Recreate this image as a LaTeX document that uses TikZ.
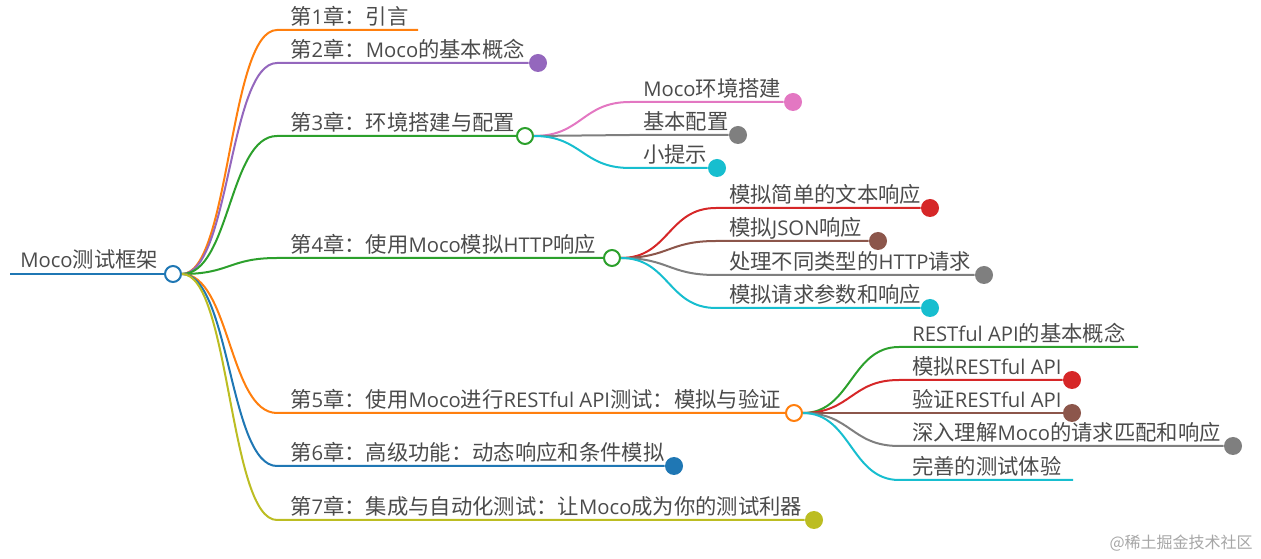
\documentclass[tikz,border=0pt]{standalone}
\usepackage{fontspec}
\setmainfont{Noto Sans CJK SC}
\newfontfamily\latfont[Scale=0.95]{Open Sans}
\newcommand\lat[1]{{\latfont #1}}
\usetikzlibrary{positioning}
\definecolor{MapBlue}{RGB}{31,119,180}
\definecolor{MapOrange}{RGB}{255,127,14}
\definecolor{MapGreen}{RGB}{44,160,44}
\definecolor{MapRed}{RGB}{214,39,40}
\definecolor{MapPurple}{RGB}{148,103,189}
\definecolor{MapBrown}{RGB}{140,86,75}
\definecolor{MapPink}{RGB}{227,119,194}
\definecolor{MapGray}{RGB}{127,127,127}
\definecolor{MapOlive}{RGB}{188,189,34}
\definecolor{MapCyan}{RGB}{23,190,207}
\definecolor{TextGray}{RGB}{75,75,75}
\tikzset{
  maptext/.style={anchor=base west,inner sep=0pt,text=TextGray,
    font=\fontsize{16pt}{19pt}\selectfont},
  maplink/.style={line width=1.5pt,draw=#1},
  hubdot/.style={circle,draw=#1,line width=1.5pt,fill=white,
    minimum size=12pt,inner sep=0pt},
  leafdot/.style={circle,fill=#1,minimum size=13.5pt,inner sep=0pt},
  markstamp/.style={anchor=east,inner sep=0pt,text=black!35,
    font=\fontsize{12pt}{14pt}\selectfont},
}
\begin{document}
\begin{tikzpicture}[x=0.75pt,y=-0.75pt]
  \useasboundingbox (0,0) rectangle (1261,559);
  \node[hubdot=MapBlue] (root) at (173,274) {};
  \coordinate (rootS) at (10,274);
  \node[maptext] (rootT) at (20,268) {\lat{Moco}测试框架};
  \draw[maplink=MapBlue] (rootS) -- (root);

  \coordinate (c1a) at (277,30);
  \coordinate (c1b) at (418,30);
  \node[leafdot=MapPurple] (c2d) at (538,63) {};
  \coordinate (c2a) at (277,63);
  \node[hubdot=MapGreen] (h3) at (525,136) {};
  \coordinate (c3a) at (277,136);
  \node[hubdot=MapGreen] (h4) at (612,258) {};
  \coordinate (c4a) at (277,258);
  \node[hubdot=MapOrange] (h5) at (794,413) {};
  \coordinate (c5a) at (277,413);
  \node[leafdot=MapBlue] (c6d) at (674,466) {};
  \coordinate (c6a) at (277,466);
  \node[leafdot=MapOlive] (c7d) at (814,520) {};
  \coordinate (c7a) at (277,520);
  \draw[maplink=MapOrange] (root.east) .. controls +(48,0) and +(-48,0) .. (c1a) -- (c1b);
  \draw[maplink=MapPurple] (root.east) .. controls +(48,0) and +(-48,0) .. (c2a) -- (c2d);
  \draw[maplink=MapGreen] (root.east) .. controls +(48,0) and +(-48,0) .. (c3a) -- (h3);
  \draw[maplink=MapGreen] (root.east) .. controls +(48,0) and +(-48,0) .. (c4a) -- (h4);
  \draw[maplink=MapOrange] (root.east) .. controls +(48,0) and +(-48,0) .. (c5a) -- (h5);
  \draw[maplink=MapBlue] (root.east) .. controls +(48,0) and +(-48,0) .. (c6a) -- (c6d);
  \draw[maplink=MapOlive] (root.east) .. controls +(48,0) and +(-48,0) .. (c7a) -- (c7d);
  \node[maptext] (c1) at (290,25) {第\lat{1}章：引言};
  \node[maptext] (c2) at (290,58) {第\lat{2}章：\lat{Moco}的基本概念};
  \node[maptext] (c3) at (290,131) {第\lat{3}章：环境搭建与配置};
  \node[maptext] (c4) at (290,253) {第\lat{4}章：使用\lat{Moco}模拟\lat{HTTP}响应};
  \node[maptext] (c5) at (290,408) {第\lat{5}章：使用\lat{Moco}进行\lat{RESTful API}测试：模拟与验证};
  \node[maptext] (c6) at (290,461) {第\lat{6}章：高级功能：动态响应和条件模拟};
  \node[maptext] (c7) at (290,515) {第\lat{7}章：集成与自动化测试：让\lat{Moco}成为你的测试利器};

  \node[leafdot=MapPink] (s31d) at (793,102) {};
  \coordinate (s31a) at (630,102);
  \node[leafdot=MapGray] (s32d) at (738,135) {};
  \coordinate (s32a) at (630,135);
  \node[leafdot=MapCyan] (s33d) at (717,168) {};
  \coordinate (s33a) at (630,168);
  \draw[maplink=MapPink] (h3.east) .. controls +(48,0) and +(-48,0) .. (s31a) -- (s31d);
  \draw[maplink=MapGray] (h3.east) .. controls +(48,0) and +(-48,0) .. (s32a) -- (s32d);
  \draw[maplink=MapCyan] (h3.east) .. controls +(48,0) and +(-48,0) .. (s33a) -- (s33d);
  \node[maptext] (s31) at (643,97) {\lat{Moco}环境搭建};
  \node[maptext] (s32) at (643,130) {基本配置};
  \node[maptext] (s33) at (643,163) {小提示};

  \node[leafdot=MapRed] (s41d) at (930,208) {};
  \coordinate (s41a) at (716,208);
  \node[leafdot=MapBrown] (s42d) at (878,241) {};
  \coordinate (s42a) at (716,241);
  \node[leafdot=MapGray] (s43d) at (984,275) {};
  \coordinate (s43a) at (716,275);
  \node[leafdot=MapCyan] (s44d) at (930,308) {};
  \coordinate (s44a) at (716,308);
  \draw[maplink=MapRed] (h4.east) .. controls +(48,0) and +(-48,0) .. (s41a) -- (s41d);
  \draw[maplink=MapBrown] (h4.east) .. controls +(48,0) and +(-48,0) .. (s42a) -- (s42d);
  \draw[maplink=MapGray] (h4.east) .. controls +(48,0) and +(-48,0) .. (s43a) -- (s43d);
  \draw[maplink=MapCyan] (h4.east) .. controls +(48,0) and +(-48,0) .. (s44a) -- (s44d);
  \node[maptext] (s41) at (729,203) {模拟简单的文本响应};
  \node[maptext] (s42) at (729,236) {模拟\lat{JSON}响应};
  \node[maptext] (s43) at (729,270) {处理不同类型的\lat{HTTP}请求};
  \node[maptext] (s44) at (729,303) {模拟请求参数和响应};

  \coordinate (s51a) at (899,347);
  \coordinate (s51b) at (1138,347);
  \node[leafdot=MapRed] (s52d) at (1072,380) {};
  \coordinate (s52a) at (899,380);
  \node[leafdot=MapBrown] (s53d) at (1072,413) {};
  \coordinate (s53a) at (899,413);
  \node[leafdot=MapGray] (s54d) at (1233,446) {};
  \coordinate (s54a) at (899,446);
  \coordinate (s55a) at (899,480);
  \coordinate (s55b) at (1073,480);
  \draw[maplink=MapGreen] (h5.east) .. controls +(48,0) and +(-48,0) .. (s51a) -- (s51b);
  \draw[maplink=MapRed] (h5.east) .. controls +(48,0) and +(-48,0) .. (s52a) -- (s52d);
  \draw[maplink=MapBrown] (h5.east) .. controls +(48,0) and +(-48,0) .. (s53a) -- (s53d);
  \draw[maplink=MapGray] (h5.east) .. controls +(48,0) and +(-48,0) .. (s54a) -- (s54d);
  \draw[maplink=MapCyan] (h5.east) .. controls +(48,0) and +(-48,0) .. (s55a) -- (s55b);
  \node[maptext] (s51) at (912,342) {\lat{RESTful API}的基本概念};
  \node[maptext] (s52) at (912,375) {模拟\lat{RESTful API}};
  \node[maptext] (s53) at (912,408) {验证\lat{RESTful API}};
  \node[maptext] (s54) at (912,441) {深入理解\lat{Moco}的请求匹配和响应};
  \node[maptext] (s55) at (912,475) {完善的测试体验};

  \node[markstamp] (stamp) at (1253,543) {@稀土掘金技术社区};
\end{tikzpicture}
\end{document}
